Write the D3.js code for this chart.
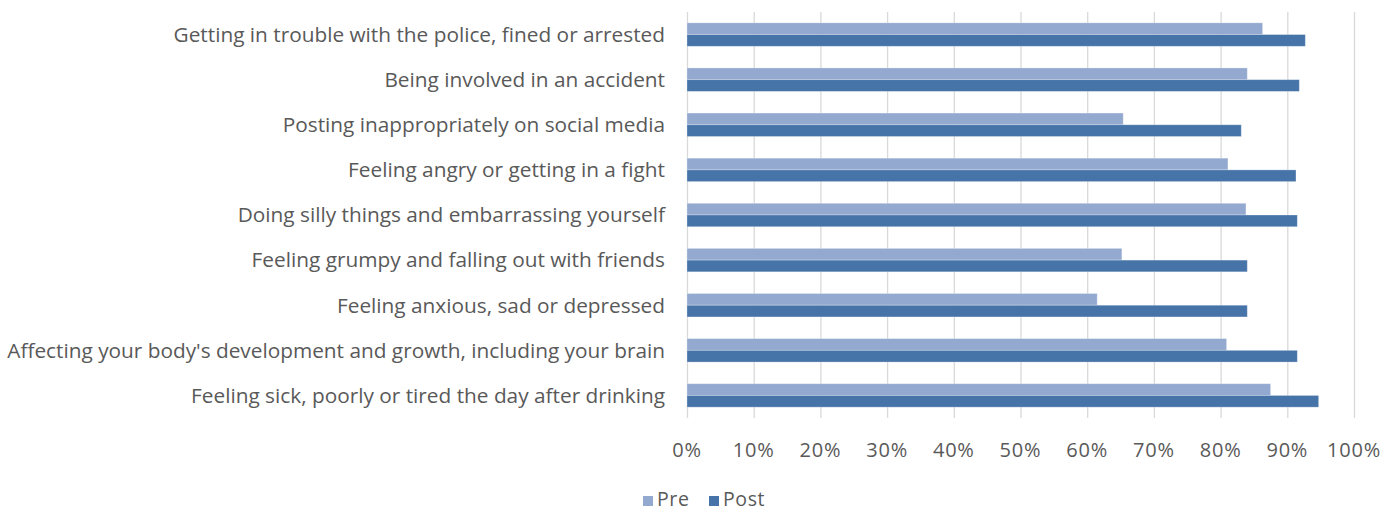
<!DOCTYPE html>
<html>
<head>
<meta charset="utf-8">
<script src="https://cdn.jsdelivr.net/npm/d3@7"></script>
<style>
  body { margin: 0; background: #fff; }
  svg text { font-family: "Open Sans", "Noto Sans", sans-serif; fill: #595959; }
</style>
</head>
<body>
<svg id="chart" width="1396" height="512"></svg>
<script>

var categories = [
  'Getting in trouble with the police, fined or arrested',
  'Being involved in an accident',
  'Posting inappropriately on social media',
  'Feeling angry or getting in a fight',
  'Doing silly things and embarrassing yourself',
  'Feeling grumpy and falling out with friends',
  'Feeling anxious, sad or depressed',
  "Affecting your body's development and growth, including your brain",
  'Feeling sick, poorly or tired the day after drinking'
];

var pre  = [86.3, 84.0, 65.4, 81.1, 83.8, 65.2, 61.5, 80.9, 87.5];
var post = [92.7, 91.8, 83.1, 91.3, 91.5, 84.0, 84.0, 91.5, 94.7];

var series = ['Pre', 'Post'];
var colors = ['#94a9d0', '#4673a8'];
var ticks = [0, 10, 20, 30, 40, 50, 60, 70, 80, 90, 100];

var margin = {top: 12, right: 42, bottom: 94, left: 687};
var width = 1396 - margin.left - margin.right,
    height = 512 - margin.top - margin.bottom;

var svg = d3.select('#chart');
var g = svg.append('g')
           .attr('transform', 'translate(' + margin.left + ',' + margin.top + ')');

var x = d3.scaleLinear().domain([0, 100]).range([0, width]);
var y = d3.scaleBand().domain(categories).range([0, height]).paddingInner(0.48).paddingOuter(0.24);
var ySub = d3.scaleBand().domain(series).range([0, y.bandwidth()]);

// gridlines
g.append('g')
  .selectAll('line')
  .data(ticks)
  .enter()
  .append('line')
  .attr('x1', d => x(d) + 0.5)
  .attr('x2', d => x(d) + 0.5)
  .attr('y1', 0)
  .attr('y2', height)
  .attr('stroke', '#d9d9d9')
  .attr('stroke-width', 1.3);

// x tick labels
g.append('g')
  .selectAll('text')
  .data(ticks)
  .enter()
  .append('text')
  .attr('x', d => x(d))
  .attr('y', height + 39)
  .attr('text-anchor', 'middle')
  .attr('font-size', 20)
  .attr('letter-spacing', 0.8)
  .text(d => d + '%');

// category labels
g.append('g')
  .selectAll('text')
  .data(categories)
  .enter()
  .append('text')
  .attr('x', -22)
  .attr('y', d => y(d) + y.bandwidth() / 2)
  .attr('dy', '0.35em')
  .attr('text-anchor', 'end')
  .attr('font-size', 20.8)
  .text(d => d);

// bars
var rows = categories.map((c, i) => ({cat: c, values: [pre[i], post[i]]}));

var groups = g.append('g')
  .selectAll('g')
  .data(rows)
  .enter()
  .append('g')
  .attr('transform', d => 'translate(0,' + y(d.cat) + ')');

groups.selectAll('rect')
  .data(d => d.values.map((v, j) => ({s: series[j], v: v, c: colors[j]})))
  .enter()
  .append('rect')
  .attr('x', x(0))
  .attr('y', d => ySub(d.s))
  .attr('width', d => x(d.v) - x(0))
  .attr('height', ySub.bandwidth())
  .attr('fill', d => d.c)
  .attr('stroke', 'rgba(255,255,255,0.35)')
  .attr('stroke-width', 0.8);

// legend
var legend = svg.append('g').attr('transform', 'translate(643,500)');
var lx = [0, 66];
series.forEach((s, i) => {
  legend.append('rect')
        .attr('x', lx[i])
        .attr('y', -4)
        .attr('width', 10)
        .attr('height', 10)
        .attr('fill', colors[i]);
  legend.append('text')
        .attr('x', lx[i] + 14)
        .attr('y', 0)
        .attr('dy', '0.33em')
        .attr('font-size', 19.5)
        .attr('letter-spacing', 0.6)
        .text(s);
});

</script>
</body>
</html>
